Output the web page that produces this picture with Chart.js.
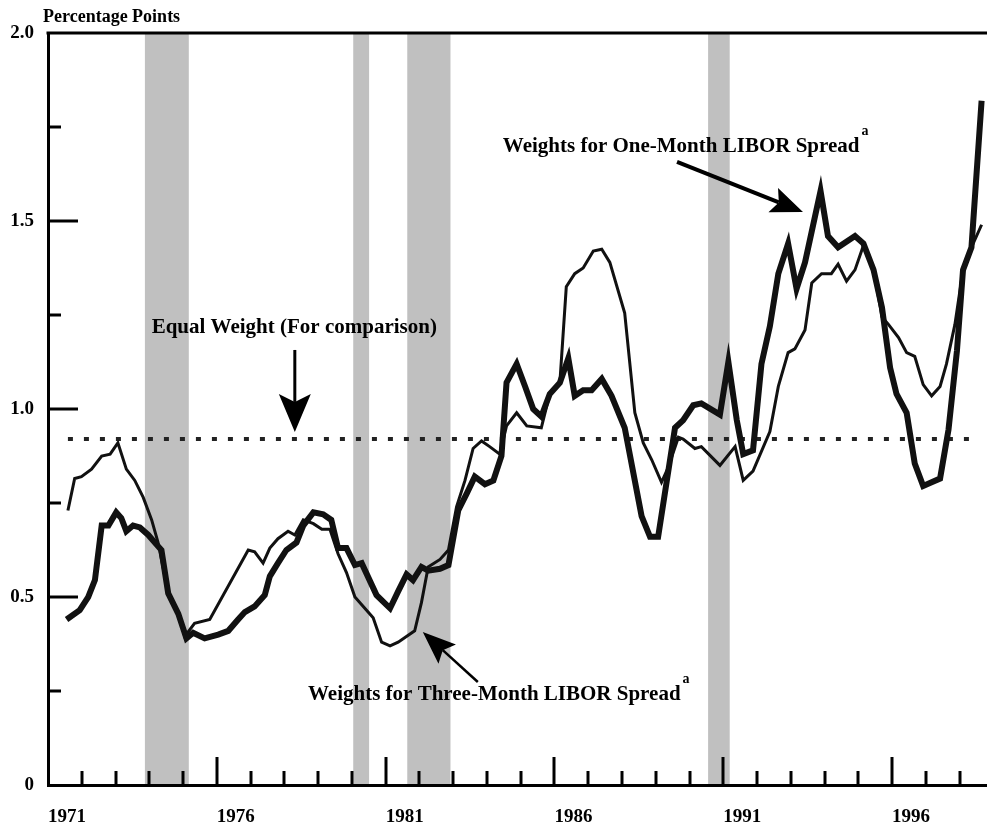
<!DOCTYPE html>
<html>
<head>
<meta charset="utf-8">
<script src="https://cdn.jsdelivr.net/npm/chart.js@4.4.1/dist/chart.umd.min.js"></script>
<style>
  html, body { margin: 0; padding: 0; background: #fff; }
  canvas { display: block; }
</style>
</head>
<body>
<canvas id="spreadChart" width="987" height="829"></canvas>
<script>
// one-month LIBOR spread weights (thick line)
const oneMonthYears = [
  1971.55, 1971.94, 1972.19, 1972.39, 1972.59, 1972.79, 1973.02, 1973.17, 1973.32, 1973.52,
  1973.72, 1973.97, 1974.21, 1974.36, 1974.56, 1974.86, 1975.10, 1975.30, 1975.64, 1976.04,
  1976.34, 1976.63, 1976.83, 1977.12, 1977.42, 1977.57, 1977.81, 1978.06, 1978.36, 1978.56,
  1978.86, 1979.15, 1979.39, 1979.59, 1979.84, 1980.09, 1980.29, 1980.73, 1981.13, 1981.37,
  1981.62, 1981.81, 1982.06, 1982.26, 1982.61, 1982.86, 1983.15, 1983.40, 1983.64, 1983.94,
  1984.19, 1984.43, 1984.58, 1984.88, 1985.13, 1985.37, 1985.61, 1985.86, 1986.16, 1986.41,
  1986.60, 1986.85, 1987.10, 1987.40, 1987.69, 1988.08, 1988.58, 1988.83, 1989.07, 1989.57,
  1989.81, 1990.11, 1990.35, 1990.90, 1991.15, 1991.40, 1991.59, 1991.88, 1992.13, 1992.38,
  1992.63, 1992.92, 1993.17, 1993.42, 1993.88, 1994.10, 1994.40, 1994.90, 1995.15, 1995.45,
  1995.70, 1995.94, 1996.13, 1996.43, 1996.67, 1996.92, 1997.17, 1997.42, 1997.67, 1997.92,
  1998.10, 1998.35, 1998.65
];
const oneMonthValues = [
  0.44, 0.465, 0.50, 0.545, 0.69, 0.69, 0.725, 0.71, 0.675, 0.69,
  0.685, 0.665, 0.64, 0.625, 0.51, 0.455, 0.39, 0.405, 0.39, 0.40,
  0.41, 0.44, 0.46, 0.475, 0.505, 0.555, 0.59, 0.625, 0.645, 0.69,
  0.725, 0.72, 0.705, 0.63, 0.63, 0.585, 0.59, 0.505, 0.47, 0.515,
  0.56, 0.545, 0.58, 0.57, 0.575, 0.585, 0.73, 0.775, 0.82, 0.80,
  0.81, 0.875, 1.07, 1.12, 1.06, 1.00, 0.98, 1.04, 1.07, 1.135,
  1.035, 1.05, 1.05, 1.08, 1.035, 0.95, 0.715, 0.66, 0.66, 0.95,
  0.97, 1.01, 1.015, 0.985, 1.125, 0.97, 0.88, 0.89, 1.12, 1.22,
  1.36, 1.44, 1.32, 1.39, 1.58, 1.46, 1.43, 1.46, 1.44, 1.37,
  1.27, 1.11, 1.04, 0.99, 0.855, 0.795, 0.805, 0.815, 0.945, 1.155,
  1.37, 1.43, 1.82
];

// three-month LIBOR spread weights (thin line)
const threeMonthYears = [
  1971.59, 1971.79, 1971.99, 1972.29, 1972.59, 1972.84, 1973.07, 1973.32, 1973.57, 1973.82,
  1974.07, 1974.26, 1974.56, 1974.86, 1975.05, 1975.34, 1975.79, 1976.93, 1977.12, 1977.37,
  1977.57, 1977.81, 1978.11, 1978.31, 1978.56, 1978.86, 1979.11, 1979.35, 1979.59, 1979.84,
  1980.09, 1980.63, 1980.88, 1981.13, 1981.37, 1981.86, 1982.06, 1982.26, 1982.61, 1982.86,
  1983.10, 1983.35, 1983.59, 1983.84, 1984.08, 1984.38, 1984.58, 1984.88, 1985.18, 1985.61,
  1985.86, 1986.16, 1986.35, 1986.60, 1986.85, 1987.15, 1987.40, 1987.64, 1988.08, 1988.38,
  1988.63, 1988.88, 1989.17, 1989.37, 1989.67, 1989.81, 1990.16, 1990.35, 1990.90, 1991.35,
  1991.59, 1991.88, 1992.38, 1992.63, 1992.92, 1993.12, 1993.42, 1993.62, 1993.91, 1994.20,
  1994.40, 1994.65, 1994.90, 1995.15, 1995.45, 1995.70, 1995.89, 1996.19, 1996.43, 1996.67,
  1996.92, 1997.17, 1997.42, 1997.61, 1997.86, 1998.10, 1998.35, 1998.65
];
const threeMonthValues = [
  0.73, 0.815, 0.82, 0.84, 0.875, 0.88, 0.91, 0.84, 0.81, 0.765,
  0.705, 0.645, 0.51, 0.455, 0.395, 0.43, 0.44, 0.625, 0.62, 0.59,
  0.63, 0.655, 0.675, 0.665, 0.705, 0.695, 0.68, 0.68, 0.615, 0.565,
  0.50, 0.445, 0.38, 0.37, 0.38, 0.41, 0.485, 0.58, 0.60, 0.625,
  0.74, 0.81, 0.895, 0.915, 0.90, 0.88, 0.955, 0.99, 0.955, 0.95,
  1.04, 1.07, 1.325, 1.36, 1.375, 1.42, 1.425, 1.39, 1.255, 0.99,
  0.91, 0.865, 0.805, 0.845, 0.925, 0.92, 0.895, 0.90, 0.85, 0.90,
  0.81, 0.835, 0.94, 1.06, 1.15, 1.16, 1.21, 1.335, 1.36, 1.36,
  1.385, 1.34, 1.37, 1.435, 1.37, 1.245, 1.225, 1.19, 1.15, 1.14,
  1.065, 1.035, 1.06, 1.12, 1.225, 1.37, 1.43, 1.49
];

// equal weight reference level
const equalWeightLevel = 0.92;
const equalWeightSpan = [1971.59, 1998.45];

// recessions (shaded)
const recessions = [
  [1973.87, 1975.17],
  [1980.04, 1980.51],
  [1981.64, 1982.92],
  [1990.55, 1991.19]
];

// axis labels
const yearLabels = [1971, 1976, 1981, 1986, 1991, 1996];
const valueLabels = [0, 0.5, 1.0, 1.5, 2.0];
const minorValueTicks = [0.25, 0.75, 1.25, 1.75];

const serif = '"Liberation Serif", "Times New Roman", serif';

function toPoints(xs, ys) {
  return xs.map((x, i) => ({ x: x, y: ys[i] }));
}

function drawArrow(ctx, x0, y0, x1, y1, len, half, notch, lw) {
  const ang = Math.atan2(y1 - y0, x1 - x0);
  const c = Math.cos(ang), s = Math.sin(ang);
  const bx = x1 - len * c, by = y1 - len * s;
  ctx.lineWidth = lw;
  ctx.beginPath();
  ctx.moveTo(x0, y0);
  ctx.lineTo(bx + notch * c, by + notch * s);
  ctx.stroke();
  ctx.beginPath();
  ctx.moveTo(x1, y1);
  ctx.lineTo(bx - half * s, by + half * c);
  ctx.lineTo(bx + notch * c, by + notch * s);
  ctx.lineTo(bx + half * s, by - half * c);
  ctx.closePath();
  ctx.fill();
}

const shading = {
  id: 'shading',
  beforeDraw(chart) {
    const { ctx, chartArea, scales } = chart;
    ctx.save();
    ctx.fillStyle = '#c0c0c0';
    recessions.forEach(r => {
      const a = scales.x.getPixelForValue(r[0]);
      const b = scales.x.getPixelForValue(r[1]);
      ctx.fillRect(a, chartArea.top, b - a, chartArea.bottom - chartArea.top);
    });
    ctx.restore();
  }
};

const decorations = {
  id: 'decorations',
  afterDraw(chart) {
    const { ctx, chartArea, scales } = chart;
    const x = scales.x, y = scales.y;
    ctx.save();
    ctx.strokeStyle = '#000';
    ctx.fillStyle = '#000';

    // top frame line
    ctx.lineWidth = 3;
    ctx.beginPath();
    ctx.moveTo(chartArea.left - 1.5, chartArea.top);
    ctx.lineTo(chartArea.right, chartArea.top);
    ctx.stroke();

    // inward ticks on the x axis
    for (let yr = yearLabels[0] + 1; yr <= 1998; yr++) {
      const px = Math.round(x.getPixelForValue(yr));
      const len = yearLabels.includes(yr) ? 28 : 14;
      ctx.beginPath();
      ctx.moveTo(px, chartArea.bottom);
      ctx.lineTo(px, chartArea.bottom - len);
      ctx.stroke();
    }
    // inward ticks on the y axis
    valueLabels.slice(1, -1).forEach(v => {
      const py = Math.round(y.getPixelForValue(v));
      ctx.beginPath();
      ctx.moveTo(chartArea.left, py);
      ctx.lineTo(chartArea.left + 30, py);
      ctx.stroke();
    });
    minorValueTicks.forEach(v => {
      const py = Math.round(y.getPixelForValue(v));
      ctx.beginPath();
      ctx.moveTo(chartArea.left, py);
      ctx.lineTo(chartArea.left + 13, py);
      ctx.stroke();
    });

    // unit label
    ctx.font = 'bold 18px ' + serif;
    ctx.textBaseline = 'middle';
    ctx.textAlign = 'left';
    ctx.fillText('Percentage Points', chartArea.left - 5, chartArea.top - 16);

    // annotations
    ctx.textBaseline = 'alphabetic';
    const notes = [
      { text: 'Weights for One-Month LIBOR Spread', sup: 'a', x: 1984.47, y: 1.684 },
      { text: 'Equal Weight (For comparison)', sup: '', x: 1974.07, y: 1.202 },
      { text: 'Weights for Three-Month LIBOR Spread', sup: 'a', x: 1978.70, y: 0.226 }
    ];
    notes.forEach(n => {
      const px = x.getPixelForValue(n.x), py = y.getPixelForValue(n.y);
      ctx.font = 'bold 21px ' + serif;
      ctx.fillText(n.text, px, py);
      if (n.sup) {
        const w = ctx.measureText(n.text).width;
        ctx.font = 'bold 14px ' + serif;
        ctx.fillText(n.sup, px + w + 2, py - 17);
      }
    });

    // arrows
    drawArrow(ctx, x.getPixelForValue(1989.63), y.getPixelForValue(1.657),
      x.getPixelForValue(1993.36), y.getPixelForValue(1.524), 32, 13, 6, 4);
    drawArrow(ctx, x.getPixelForValue(1978.31), y.getPixelForValue(1.157),
      x.getPixelForValue(1978.31), y.getPixelForValue(0.939), 38, 16, 8, 3);
    drawArrow(ctx, x.getPixelForValue(1983.73), y.getPixelForValue(0.274),
      x.getPixelForValue(1982.10), y.getPixelForValue(0.407), 33, 13, 6, 2.5);

    ctx.restore();
  }
};

const ctx = document.getElementById('spreadChart').getContext('2d');
const spreadChart = new Chart(ctx, {
  type: 'line',
  data: {
    datasets: [
      {
        label: 'Weights for One-Month LIBOR Spread',
        data: toPoints(oneMonthYears, oneMonthValues),
        borderColor: '#111',
        borderWidth: 6,
        pointRadius: 0,
        tension: 0
      },
      {
        label: 'Weights for Three-Month LIBOR Spread',
        data: toPoints(threeMonthYears, threeMonthValues),
        borderColor: '#111',
        borderWidth: 3,
        pointRadius: 0,
        tension: 0
      },
      {
        label: 'Equal Weight (For comparison)',
        data: equalWeightSpan.map(yr => ({ x: yr, y: equalWeightLevel })),
        borderColor: '#222',
        borderWidth: 4,
        borderDash: [5, 11],
        borderCapStyle: 'butt',
        pointRadius: 0
      }
    ]
  },
  options: {
    responsive: false,
    devicePixelRatio: 1,
    animation: false,
    layout: { padding: { top: 33, right: 0, left: 0, bottom: 0 } },
    plugins: {
      legend: { display: false },
      tooltip: { enabled: false }
    },
    scales: {
      x: {
        type: 'linear',
        min: 1971,
        max: 1998.81,
        grid: { display: false, drawTicks: false },
        border: { display: true, color: '#000', width: 3 },
        afterBuildTicks: scale => { scale.ticks = yearLabels.map(v => ({ value: v })); },
        afterFit: scale => { scale.height = 44; },
        ticks: {
          align: 'start',
          padding: 21,
          color: '#000',
          font: { family: serif, size: 19, weight: 'bold' },
          callback: v => String(v)
        }
      },
      y: {
        min: 0,
        max: 2,
        grid: { display: false, drawTicks: false },
        border: { display: true, color: '#000', width: 3 },
        afterBuildTicks: scale => { scale.ticks = valueLabels.map(v => ({ value: v })); },
        afterFit: scale => { scale.width = 48; },
        ticks: {
          padding: 14,
          color: '#000',
          font: { family: serif, size: 19, weight: 'bold' },
          callback: v => (v === 0 ? '0' : v.toFixed(1))
        }
      }
    }
  },
  plugins: [shading, decorations]
});
</script>
</body>
</html>
